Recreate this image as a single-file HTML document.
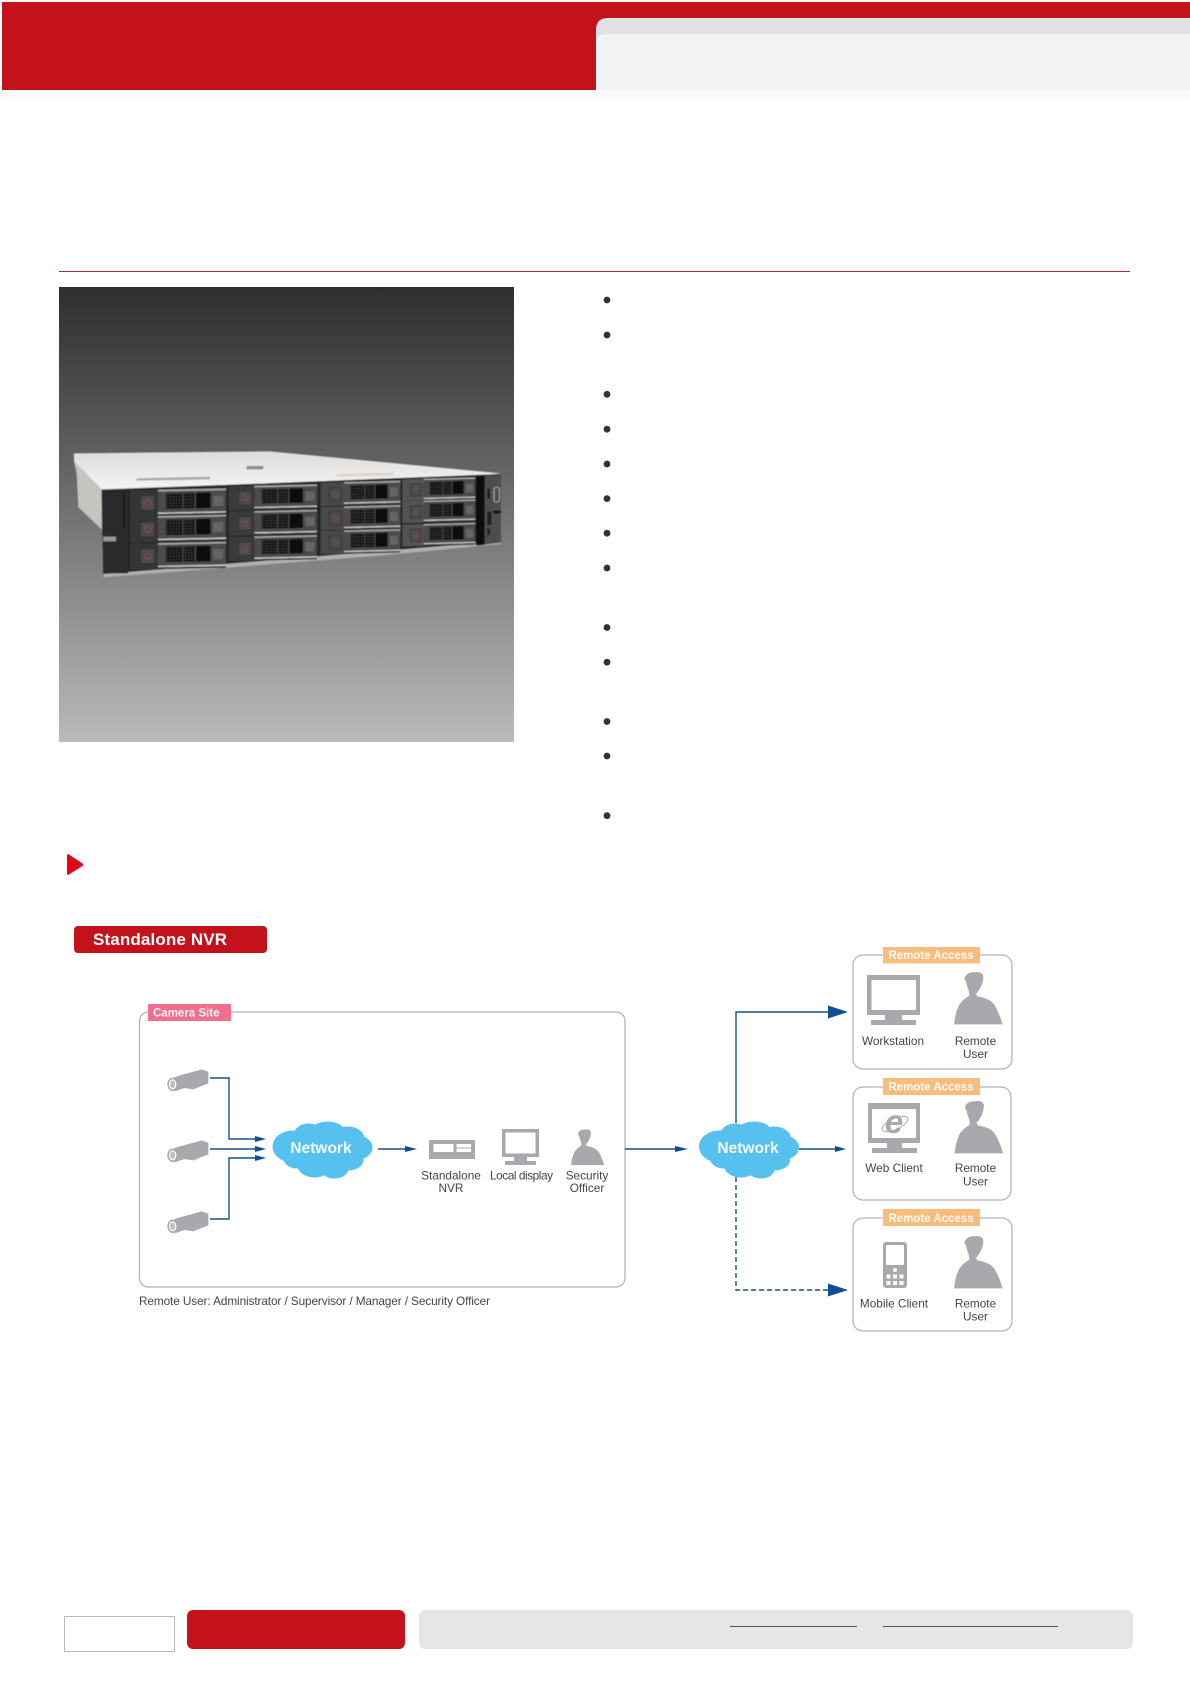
<!DOCTYPE html>
<html><head><meta charset="utf-8"><title>Standalone NVR</title>
<style>html,body{margin:0;padding:0;background:#fff}svg{display:block}text{font-family:"Liberation Sans",sans-serif}</style></head>
<body>
<svg width="1190" height="1684" viewBox="0 0 1190 1684" xmlns="http://www.w3.org/2000/svg">
<defs>
<linearGradient id="bg" x1="0" y1="0" x2="0" y2="1"><stop offset="0" stop-color="#2e2e2e"/><stop offset=".45" stop-color="#6b6b6b"/><stop offset="1" stop-color="#b9bbbb"/></linearGradient>
<linearGradient id="top" x1="0" y1="0" x2="0" y2="1"><stop offset="0" stop-color="#dcdcdc"/><stop offset="1" stop-color="#f4f4f4"/></linearGradient>
<filter id="soft"><feGaussianBlur stdDeviation="1.8"/></filter>
<pattern id="mesh" width="9" height="9" patternUnits="userSpaceOnUse"><rect width="9" height="9" fill="#141414"/><circle cx="4.500" cy="4.500" r="2" fill="#505050"/></pattern>
<g id="bay">
<rect x="0" y="0" width="84" height="78" fill="currentColor"/>
<rect x="32" y="17" width="42" height="44" fill="#4b4b4b" stroke="#2c2c2c" stroke-width="2"/>
<circle cx="53" cy="39" r="9" fill="none" stroke="#8a4d48" stroke-width="3"/>
<rect x="84" y="0" width="204" height="68" fill="#4c4c4c"/>
<rect x="84" y="0" width="204" height="5" fill="#a8a8a8"/>
<rect x="108" y="11" width="50" height="47" fill="url(#mesh)"/>
<rect x="161" y="11" width="34" height="47" fill="url(#mesh)"/>
<rect x="198" y="11" width="44" height="47" fill="#111"/>
<rect x="250" y="22" width="30" height="30" fill="#656565"/>
<rect x="84" y="68" width="204" height="5" fill="#c4c4c4"/>
<rect x="84" y="73" width="204" height="5" fill="#333"/>
</g>
<g id="person" fill="#a7a9ac"><path d="M74 36Q84 20 104 22Q124 18 130 32Q130 52 122 66Q116 80 108 86L112 94C135 98 155 105 165 122Q178 145 188 178L42 178Q46 145 55 125Q62 108 88 92L86 76Q80 62 78 50Q72 44 74 36Z"/></g>
<g id="cam"><path d="M60 46L125 28L145 35L145 70L100 88L72 84L64 66Z" fill="#a7a9ac"/><path d="M32 56L62 45L74 84L44 94Z" fill="#a7a9ac"/><ellipse cx="38" cy="73" rx="16" ry="20" fill="#a7a9ac"/><ellipse cx="38" cy="73" rx="9.500" ry="13.500" fill="#bfc0c2" stroke="#fff" stroke-width="3.500"/></g>
<g id="cloud" fill="#56c1ef"><ellipse cx="0" cy="0" rx="44" ry="21"/><ellipse cx="-30" cy="-3" rx="20" ry="16"/><ellipse cx="-14" cy="-14" rx="15" ry="12"/><ellipse cx="5" cy="-17" rx="18" ry="11"/><ellipse cx="25" cy="-11" rx="17" ry="12"/><ellipse cx="35" cy="-2" rx="15" ry="12"/><ellipse cx="-25" cy="9" rx="14" ry="10"/><ellipse cx="-8" cy="16" rx="17" ry="12"/><ellipse cx="12" cy="19" rx="14" ry="10"/><ellipse cx="25" cy="11" rx="16" ry="10"/></g>
</defs>

<!-- header -->
<rect x="2" y="90" width="1188" height="10" fill="#f9fafc"/>
<rect x="2" y="2" width="1188" height="88" fill="#c4121a"/>
<path d="M596 90V30Q596 18 608 18H1190V90Z" fill="#dfe1e2"/>
<path d="M596 90V44Q596 34 606 34H1190V90Z" fill="#f2f3f5"/>
<rect x="59" y="271" width="1071" height="1" fill="#a8283a"/>

<!-- product image -->
<rect x="59" y="287" width="455" height="455" fill="url(#bg)"/>
<g transform="translate(50 280) scale(.33333)" filter="url(#soft)">
<polygon points="72,520 660,514 1352,580 1275,590 800,605 155,628 72,545" fill="url(#top)"/>
<polygon points="72,545 155,628 155,748 85,682 80,580" fill="#c6c4bf"/>
<polygon points="155,630 1352,582 1352,790 1000,820 160,890" fill="#262626"/>
<polygon points="160,882 1300,788 1352,786 1352,792 1000,826 160,892" fill="#b0b0b0"/>
<rect x="160" y="635" width="74" height="245" fill="#2a2a2a"/>
<rect x="160" y="770" width="38" height="14" fill="#9a9a9a"/>
<rect x="218" y="640" width="6" height="105" fill="#161616"/>
<polygon points="260,595 480,590 480,598 260,602" fill="#a9a9a9"/>
<polygon points="590,558 640,558 640,568 590,568" fill="#8a8a8a"/>
<polygon points="860,582 1030,578 1030,586 860,590" fill="#e2d2c4"/>
<g color="#343434">
<use href="#bay" transform="matrix(1 -.02 0 1 240 631)"/>
<use href="#bay" transform="matrix(1 -.02 0 1 240 710)"/>
<use href="#bay" transform="matrix(1 -.02 0 1 240 791)"/>
</g>
<g color="#3a3a3a">
<use href="#bay" transform="matrix(.92 -.02 0 .93 536 619)"/>
<use href="#bay" transform="matrix(.92 -.02 0 .93 536 695)"/>
<use href="#bay" transform="matrix(.92 -.02 0 .93 536 771)"/>
</g>
<g color="#484848">
<use href="#bay" transform="matrix(.83 -.02 0 .9 812 608)"/>
<use href="#bay" transform="matrix(.83 -.02 0 .9 812 681)"/>
<use href="#bay" transform="matrix(.83 -.02 0 .9 812 753)"/>
</g>
<g color="#525252">
<use href="#bay" transform="matrix(.76 -.02 0 .84 1057 598)"/>
<use href="#bay" transform="matrix(.76 -.02 0 .84 1057 664)"/>
<use href="#bay" transform="matrix(.76 -.02 0 .84 1057 734)"/>
</g>
<polygon points="1278,590 1304,588 1304,795 1278,797" fill="#111"/>
<polygon points="1304,588 1352,584 1352,788 1304,794" fill="#4d4d4d"/>
<rect x="1332" y="622" width="16" height="44" rx="6" fill="none" stroke="#aaa" stroke-width="3"/>
<rect x="1312" y="625" width="8" height="30" fill="#1a1a1a"/>
<rect x="1312" y="695" width="12" height="40" fill="#1a1a1a"/>
<rect x="1330" y="692" width="22" height="8" fill="#111"/>
<rect x="1312" y="745" width="8" height="20" fill="#222"/>
</g>

<!-- bullets -->
<g fill="#333">
<circle cx="607" cy="300" r="3.400"/><circle cx="607" cy="335" r="3.400"/><circle cx="607" cy="394.300" r="3.400"/><circle cx="607" cy="429.200" r="3.400"/><circle cx="607" cy="464" r="3.400"/><circle cx="607" cy="498.600" r="3.400"/><circle cx="607" cy="533.200" r="3.400"/><circle cx="607" cy="568" r="3.400"/><circle cx="607" cy="627.500" r="3.400"/><circle cx="607" cy="662.200" r="3.400"/><circle cx="607" cy="721.500" r="3.400"/><circle cx="607" cy="756" r="3.400"/><circle cx="607" cy="815.700" r="3.400"/>
</g>

<!-- section marker & title -->
<path d="M67 855Q67 853.500 69 854.500L82.500 863.500Q84 864.700 82.500 866L69 874.500Q67 875.500 67 874Z" fill="#e2061c"/>
<rect x="74" y="926" width="193" height="27" rx="4" fill="#c4121a"/>
<text x="93" y="945" font-size="17" font-weight="bold" fill="#fff" textLength="134">Standalone NVR</text>

<!-- camera site -->
<rect x="139.500" y="1012" width="485.500" height="275" rx="9" fill="#fff" stroke="#b3b5b7" stroke-width="1.300"/>
<rect x="148" y="1004" width="83" height="17" rx="1" fill="#ef6f8f"/>
<text x="153" y="1016.500" font-size="11.500" font-weight="bold" fill="#fff" fill-opacity=".92">Camera Site</text>
<use href="#cam" transform="translate(160 1060) scale(.33333)"/>
<use href="#cam" transform="translate(160 1131) scale(.33333)"/>
<use href="#cam" transform="translate(160 1202) scale(.33333)"/>

<g fill="none" stroke="#16508c" stroke-width="1.400">
<path d="M210 1078H229V1139H257"/><path d="M210 1149H257"/><path d="M210 1219H229V1158H257"/>
<path d="M378 1149H407"/><path d="M625 1149H677"/>
<path d="M736 1123V1012H830"/><path d="M799 1149H837"/>
<path d="M736 1177V1290H830" stroke-dasharray="5 3"/>
</g>
<g fill="#0d4f94">
<polygon points="255,1136 266,1139 255,1142"/><polygon points="255,1146 266,1149 255,1152"/><polygon points="255,1155 266,1158 255,1161"/>
<polygon points="405,1146 417,1149 405,1152"/><polygon points="675,1146 688,1149 675,1152"/>
<polygon points="828,1005.500 848,1012 828,1018.500"/><polygon points="835,1146 846,1149 835,1152"/><polygon points="828,1283.500 848,1290 828,1296.500"/>
</g>

<use href="#cloud" transform="translate(322.500 1149.500)"/>
<text x="321" y="1153" font-size="15.500" font-weight="bold" fill="#f4fbff" text-anchor="middle">Network</text>

<!-- NVR -->
<rect x="429" y="1140" width="46" height="19" fill="#a7a9ac"/>
<rect x="433.500" y="1144" width="20" height="8" fill="#fff"/>
<rect x="456.500" y="1144" width="14.500" height="3.500" fill="#fff"/>
<rect x="456.500" y="1148.500" width="14.500" height="3.500" fill="#fff"/>
<!-- local display -->
<rect x="502" y="1129" width="37" height="28" fill="#a7a9ac"/><rect x="505.500" y="1132.500" width="30" height="21" fill="#fff"/>
<rect x="514" y="1157" width="13" height="4" fill="#a7a9ac"/><rect x="505" y="1161" width="31" height="4" fill="#a7a9ac"/>
<use href="#person" transform="translate(561.500 1124.600) scale(.227)"/>

<g font-size="11.800" fill="#444" text-anchor="middle">
<text x="451" y="1179.500">Standalone</text><text x="451" y="1192">NVR</text>
<text x="521.500" y="1179.500" textLength="63">Local display</text>
<text x="587" y="1179.500">Security</text><text x="587" y="1192">Officer</text>
<text x="139" y="1305" text-anchor="start" textLength="351">Remote User: Administrator / Supervisor / Manager / Security Officer</text>
</g>

<use href="#cloud" transform="translate(749 1149.500)"/>
<text x="748" y="1153" font-size="15.500" font-weight="bold" fill="#f4fbff" text-anchor="middle">Network</text>

<!-- remote boxes -->
<g fill="#fff" stroke="#b3b5b7" stroke-width="1.300">
<rect x="853" y="955" width="159" height="114" rx="10"/>
<rect x="853" y="1087" width="158" height="113" rx="10"/>
<rect x="853" y="1218" width="159" height="113" rx="10"/>
</g>
<g fill="#f8bd7d">
<rect x="883" y="947" width="97" height="16.500"/><rect x="883" y="1078" width="97" height="17"/><rect x="883" y="1209" width="97" height="17"/>
</g>
<g font-size="11.500" font-weight="bold" fill="#fff" fill-opacity=".92" text-anchor="middle">
<text x="931" y="959">Remote Access</text><text x="931" y="1090.500">Remote Access</text><text x="931" y="1222">Remote Access</text>
</g>

<!-- workstation -->
<rect x="867" y="975" width="53" height="40" fill="#a7a9ac"/><rect x="871.500" y="980" width="44.500" height="30" fill="#fff"/>
<rect x="885" y="1015" width="17" height="5" fill="#a7a9ac"/><rect x="871" y="1020" width="45" height="5" fill="#a7a9ac"/>
<use href="#person" transform="translate(940 965) scale(.33333)"/>
<!-- web client -->
<rect x="868" y="1103" width="52" height="40" fill="#a7a9ac"/><rect x="872" y="1109" width="44" height="29" fill="#fff"/>
<rect x="887" y="1143" width="15" height="5" fill="#a7a9ac"/><rect x="872" y="1148" width="45" height="5" fill="#a7a9ac"/>
<text x="894" y="1133" font-size="33" font-weight="bold" font-style="italic" fill="#a7a9ac" text-anchor="middle">e</text>
<ellipse cx="895" cy="1124" rx="14" ry="5.500" transform="rotate(-25 895 1124)" fill="none" stroke="#a7a9ac" stroke-width="1"/>
<use href="#person" transform="translate(940.500 1094) scale(.33333)"/>
<!-- mobile -->
<rect x="883" y="1242" width="24" height="46" rx="3" fill="#a7a9ac"/><rect x="886" y="1245" width="18" height="20" rx="1.500" fill="#fff"/>
<circle cx="895" cy="1270" r="2" fill="#fff"/>
<g fill="#fff"><rect x="886.500" y="1274.500" width="4" height="4"/><rect x="893" y="1274.500" width="4" height="4"/><rect x="899.500" y="1274.500" width="4" height="4"/><rect x="886.500" y="1281" width="4" height="4"/><rect x="893" y="1281" width="4" height="4"/><rect x="899.500" y="1281" width="4" height="4"/></g>
<use href="#person" transform="translate(940 1229) scale(.33333)"/>

<g font-size="11.800" fill="#444" text-anchor="middle">
<text x="893" y="1045">Workstation</text><text x="975.500" y="1045">Remote</text><text x="975.500" y="1058">User</text>
<text x="894" y="1172">Web Client</text><text x="975.500" y="1172">Remote</text><text x="975.500" y="1185.500">User</text>
<text x="894" y="1307.500">Mobile Client</text><text x="975.500" y="1307.500">Remote</text><text x="975.500" y="1320.500">User</text>
</g>

<!-- footer -->
<rect x="64.500" y="1616.500" width="110" height="35" fill="#fff" stroke="#bbb" stroke-width="1"/>
<rect x="187" y="1610" width="218" height="39" rx="6" fill="#c4121a"/>
<rect x="419" y="1610" width="714" height="39" rx="6" fill="#e5e6e8"/>
<rect x="730" y="1626" width="127" height="1" fill="#555"/>
<rect x="883" y="1626" width="175" height="1" fill="#555"/>
</svg>
</body></html>
